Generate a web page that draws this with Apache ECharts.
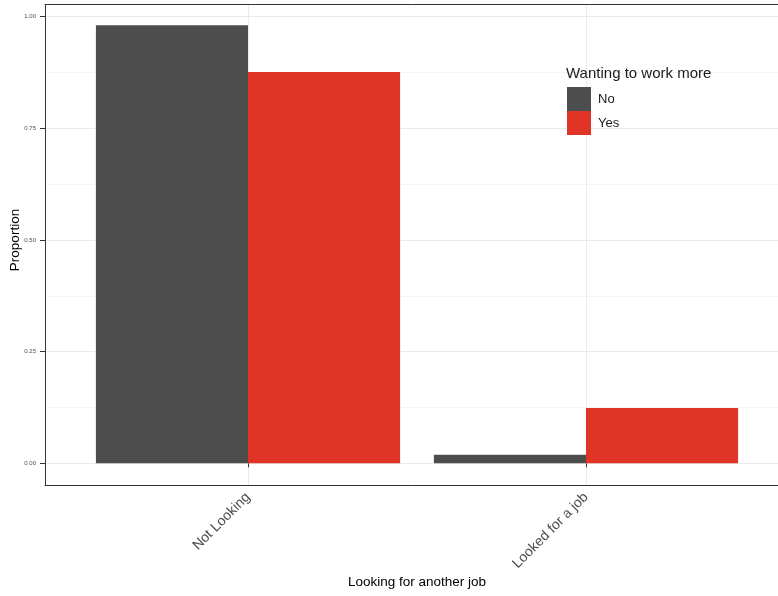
<!DOCTYPE html>
<html>
<head>
<meta charset="utf-8">
<script src="https://cdn.jsdelivr.net/npm/echarts@6/dist/echarts.min.js"></script>
<style>html,body{margin:0;padding:0;background:#fff}#c{width:778px;height:596px}</style>
</head>
<body>
<div id="c"></div>
<script>
var categories = ['Not Looking', 'Looked for a job'];
var seriesNames = ['No', 'Yes'];
var valuesNo = [0.981, 0.019];
var valuesYes = [0.876, 0.124];
var yTicks = [0, 0.25, 0.5, 0.75, 1];
var legendTitle = 'Wanting to work more';
var xTitle = 'Looking for another job';
var yTitle = 'Proportion';

var FONT = '"Liberation Sans", Arial, sans-serif';
var chart = echarts.init(document.getElementById('c'), null, {renderer: 'canvas'});
var option = {
  animation: false,
  backgroundColor: '#ffffff',
  textStyle: {fontFamily: FONT},
  title: {
    text: legendTitle, left: 566, top: 66, padding: 0,
    textStyle: {fontSize: 15, fontWeight: 'normal', color: '#1a1a1a', fontFamily: FONT}
  },
  legend: {
    orient: 'vertical', left: 567, top: 87, padding: 0, itemWidth: 24, itemHeight: 24, itemGap: 0,
    icon: 'rect', data: seriesNames,
    textStyle: {fontSize: 13, color: '#1a1a1a', fontFamily: FONT, padding: [0, 0, 0, 2]}
  },
  grid: [
    {left: 45, top: 16.7, width: 744, height: 446.6, outerBoundsMode: 'none', containLabel: false},
    {left: 79, top: 4.5, width: 676, height: 480.5, outerBoundsMode: 'none', containLabel: false},
    {left: 45, top: 4.5, width: 744, height: 480.5, outerBoundsMode: 'none', containLabel: false}
  ],
  xAxis: [
    {gridIndex: 0, type: 'value', show: false, min: 0, max: 1},
    {gridIndex: 1, type: 'category', data: categories,
     axisLine: {show: false},
     axisTick: {show: true, alignWithLabel: true, length: 4, lineStyle: {color: '#333333'}},
     splitLine: {show: true, alignWithLabel: true, lineStyle: {color: '#EBEBEB', width: 1}},
     axisLabel: {rotate: 45, margin: 10, fontSize: 14, color: '#4D4D4D', fontFamily: FONT},
     name: xTitle, nameLocation: 'middle', nameGap: 90, nameMoveOverlap: false,
     nameTextStyle: {fontSize: 13.5, color: '#000', fontFamily: FONT}},
    {gridIndex: 2, type: 'value', min: 0, max: 1, position: 'bottom',
     axisLine: {show: true, lineStyle: {color: '#333333', width: 1}},
     axisTick: {show: false}, axisLabel: {show: false}, splitLine: {show: false}},
    {gridIndex: 2, type: 'value', min: 0, max: 1, position: 'top',
     axisLine: {show: true, lineStyle: {color: '#333333', width: 1}},
     axisTick: {show: false}, axisLabel: {show: false}, splitLine: {show: false}}
  ],
  yAxis: [
    {gridIndex: 0, type: 'value', min: 0, max: 1, interval: 0.25,
     axisLine: {show: false},
     axisTick: {show: true, length: 5, lineStyle: {color: '#333333'}},
     axisLabel: {fontSize: 6, color: '#4D4D4D', margin: 9, fontFamily: FONT,
                 formatter: function (v) { return v.toFixed(2); }},
     splitLine: {show: true, lineStyle: {color: '#EBEBEB', width: 1}},
     minorTick: {show: false, splitNumber: 2},
     minorSplitLine: {show: true, lineStyle: {color: '#F4F4F4', width: 1}},
     name: yTitle, nameLocation: 'middle', nameGap: 23, nameMoveOverlap: false,
     nameTextStyle: {fontSize: 13.5, color: '#000', fontFamily: FONT}},
    {gridIndex: 1, type: 'value', min: -0.0486, max: 1.0273, show: false, splitLine: {show: false}},
    {gridIndex: 2, type: 'value', min: 0, max: 1, position: 'left',
     axisLine: {show: true, lineStyle: {color: '#333333', width: 1}},
     axisTick: {show: false}, axisLabel: {show: false}, splitLine: {show: false}}
  ],
  series: [
    {name: seriesNames[0], type: 'bar', xAxisIndex: 1, yAxisIndex: 1, data: valuesNo,
     barGap: '0%', barCategoryGap: '10%', itemStyle: {color: '#4D4D4D'}},
    {name: seriesNames[1], type: 'bar', xAxisIndex: 1, yAxisIndex: 1, data: valuesYes,
     barGap: '0%', barCategoryGap: '10%', itemStyle: {color: '#E03526'}}
  ]
};
chart.setOption(option);
</script>
</body>
</html>
